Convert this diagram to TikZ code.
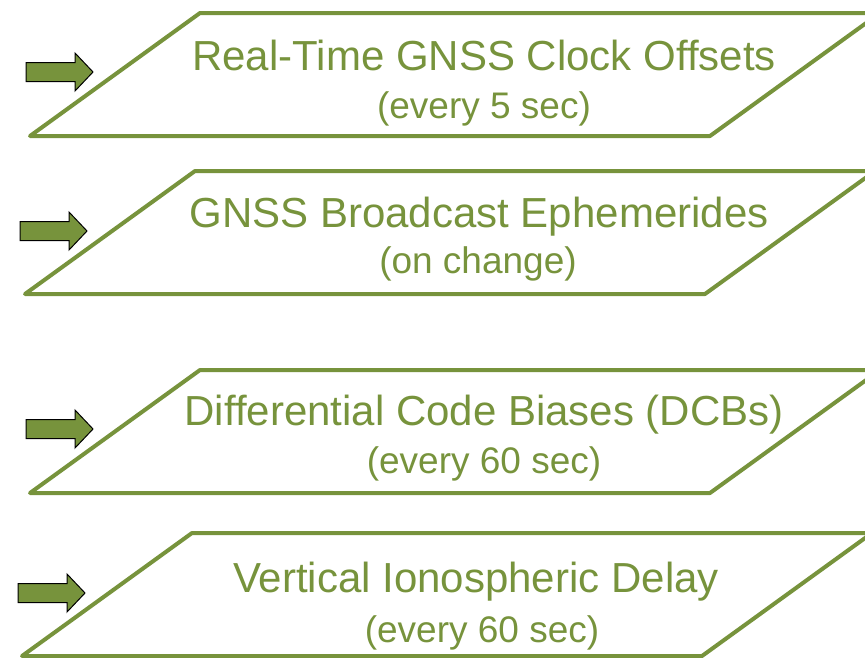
\documentclass[tikz,border=0pt]{standalone}
\usepackage{fontspec}
\setmainfont{Liberation Sans}
\definecolor{olive}{HTML}{77933C}
\tikzset{
  feedbox/.style={draw=olive, line width=4pt, line join=round, fill=white},
  feedarrow/.style={draw=black, line width=1pt, fill=olive, line join=miter},
  headline/.style={text=olive, anchor=base, inner sep=0pt, font=\fontsize{42}{48}\selectfont},
  rateline/.style={text=olive, anchor=base, inner sep=0pt, font=\fontsize{37}{44}\selectfont},
}
% block arrow: left end x, centre y
\newcommand\feedin[3]{%
  \draw[feedarrow] (#2,#3) ++(0,-9.5) -- ++(49,0) -- ++(0,-9.5) -- ++(18,19)
    coordinate (#1) -- ++(-18,19) -- ++(0,-9.5) -- ++(-49,0) -- cycle;}
\begin{document}
\begin{tikzpicture}[x=1pt,y=-1pt]
\useasboundingbox (0,0) rectangle (865,657);
\clip (0,0) rectangle (865,657);

% data products, one slanted box each
\draw[feedbox] (30,136) -- (200,13) -- (880,13) -- (710,136) -- cycle;
\draw[feedbox] (25,294) -- (195,171) -- (875,171) -- (705,294) -- cycle;
\draw[feedbox] (30,493) -- (200,370) -- (880,370) -- (710,493) -- cycle;
\draw[feedbox] (22,656) -- (192,533) -- (872,533) -- (702,656) -- cycle;

% incoming arrows
\feedin{a1}{26}{72}
\feedin{a2}{20}{231}
\feedin{a3}{26}{429}
\feedin{a4}{18}{593}

% labels
\node[headline] (t1) at (484,70)  {Real-Time GNSS Clock Offsets};
\node[rateline] (r1) at (484,118) {(every 5 sec)};
\node[headline] (t2) at (479,227) {GNSS Broadcast Ephemerides};
\node[rateline] (r2) at (478,273) {(on change)};
\node[headline] (t3) at (484,425) {Differential Code Biases (DCBs)};
\node[rateline] (r3) at (484,473) {(every 60 sec)};
\node[headline] (t4) at (476,592) {Vertical Ionospheric Delay};
\node[rateline] (r4) at (482,642) {(every 60 sec)};
\end{tikzpicture}
\end{document}
